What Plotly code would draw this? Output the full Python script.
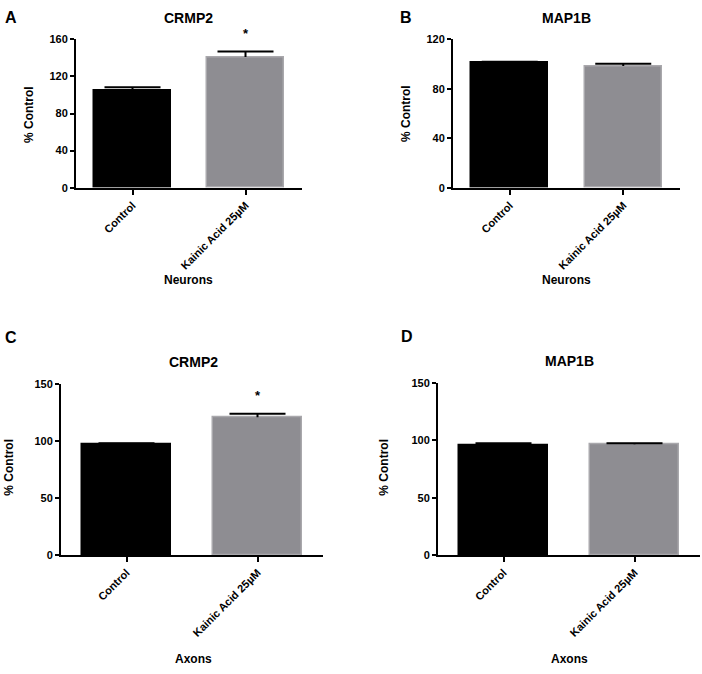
import plotly.graph_objects as go

W, H = 702, 674

categories = ["Control", "Kainic Acid 25µM"]

neurons_crmp2 = [105, 141]
neurons_crmp2_err = [3.5, 6.0]
neurons_map1b = [101, 98.5]
neurons_map1b_err = [1.0, 1.7]
axons_crmp2 = [97.6, 120.9]
axons_crmp2_err = [0.5, 3.2]
axons_map1b = [96.3, 96.6]
axons_map1b_err = [1.2, 1.0]

y_ticks_neurons = [0, 40, 80, 120, 160]
y_ticks_map1b_n = [0, 40, 80, 120]
y_ticks_axons = [0, 50, 100, 150]

bar_fill = ["#000000", "#8e8d92"]
bar_edge = ["#000000", "#a9a8ac"]
font_fam = "Arial, Liberation Sans, sans-serif"


def px_x(x):
    return x / W


def px_y(y):
    return 1 - y / H


# panel: data, err, ticks, x0,x1 (px), ytop, ybottom (px), letter, title, xtitle
panels = [
    (neurons_crmp2, neurons_crmp2_err, y_ticks_neurons, 76, 302, 34, 185, "A", "CRMP2", "Neurons"),
    (neurons_map1b, neurons_map1b_err, y_ticks_map1b_n, 453, 680, 34, 185, "B", "MAP1B", "Neurons"),
    (axons_crmp2, axons_crmp2_err, y_ticks_axons, 61, 323, 385, 559, "C", "CRMP2", "Axons"),
    (axons_map1b, axons_map1b_err, y_ticks_axons, 438, 700, 384, 559, "D", "MAP1B", "Axons"),
]

fig = go.Figure()
annotations = []

for i, (vals, errs, ticks, x0, x1, yt, yb, letter, title, xtitle) in enumerate(panels):
    n = "" if i == 0 else str(i + 1)
    for j in range(2):
        fig.add_trace(go.Bar(
            x=[j], y=[vals[j]], width=0.68,
            marker=dict(color=bar_fill[j], line=dict(color=bar_edge[j], width=1.5)),
            xaxis="x" + n, yaxis="y" + n, showlegend=False,
        ))
        # upper error bar only: whisker down to bar top, cap drawn as marker
        fig.add_trace(go.Scatter(
            x=[j], y=[vals[j] + errs[j]], mode="markers",
            marker=dict(symbol="line-ew", size=40, line=dict(color="black", width=2)),
            error_y=dict(type="data", array=[0], arrayminus=[errs[j]], symmetric=False,
                         color="black", thickness=2, width=0),
            xaxis="x" + n, yaxis="y" + n, showlegend=False, cliponaxis=False,
        ))
    fig.layout["xaxis" + n] = dict(
        domain=[px_x(x0), px_x(x1)], range=[-0.5, 1.5], anchor="y" + n,
        tickmode="array", tickvals=[0, 1], ticktext=categories, tickangle=-45,
        showline=True, linecolor="black", linewidth=2, ticks="outside",
        ticklen=5, tickwidth=2, tickcolor="black", showgrid=False, zeroline=False,
        tickfont=dict(family=font_fam, size=11, color="black", weight="bold"),
    )
    fig.layout["yaxis" + n] = dict(
        domain=[px_y(yb), px_y(yt)], range=[0, ticks[-1]], anchor="x" + n,
        tickmode="array", tickvals=ticks,
        showline=True, linecolor="black", linewidth=2, ticks="outside",
        ticklen=4, tickwidth=2, tickcolor="black", showgrid=False, zeroline=False,
        tickfont=dict(family=font_fam, size=11, color="black", weight="bold"),
    )
    # significance star
    if title == "CRMP2":
        annotations.append(dict(
            x=1, y=vals[1] + errs[1], xref="x" + n, yref="y" + n, text="*",
            showarrow=False, yshift=18,
            font=dict(family=font_fam, size=13, color="black", weight="bold"),
        ))

# labels (panel letters, titles, axis titles)
letters = [("A", 3, 12), ("B", 398, 12), ("C", 3, 338), ("D", 399, 336)]
titles = [("CRMP2", 188, 12), ("MAP1B", 566, 12), ("CRMP2", 193, 362), ("MAP1B", 569, 361)]
x_titles = [("Neurons", 188, 279), ("Neurons", 566, 279), ("Axons", 193, 665), ("Axons", 569, 665)]
y_titles = [(29, 110), (406, 110), (9, 470), (384, 470)]

for t, x, y in letters:
    annotations.append(dict(x=px_x(x), y=px_y(y), xref="paper", yref="paper", text=t,
                            showarrow=False, xanchor="left", yanchor="middle",
                            font=dict(family=font_fam, size=16, color="black", weight="bold")))
for t, x, y in titles:
    annotations.append(dict(x=px_x(x), y=px_y(y), xref="paper", yref="paper", text=t,
                            showarrow=False, xanchor="center", yanchor="middle",
                            font=dict(family=font_fam, size=14, color="black", weight="bold")))
for t, x, y in x_titles:
    annotations.append(dict(x=px_x(x), y=px_y(y), xref="paper", yref="paper", text=t,
                            showarrow=False, xanchor="center", yanchor="middle",
                            font=dict(family=font_fam, size=12, color="black", weight="bold")))
for x, y in y_titles:
    annotations.append(dict(x=px_x(x), y=px_y(y), xref="paper", yref="paper", text="% Control",
                            showarrow=False, textangle=-90, xanchor="center", yanchor="middle",
                            font=dict(family=font_fam, size=12, color="black", weight="bold")))

fig.update_layout(
    width=W, height=H, margin=dict(l=0, r=0, t=0, b=0),
    paper_bgcolor="white", plot_bgcolor="white",
    annotations=annotations, bargap=0,
)

fig.write_html("out.html", config={"displayModeBar": False},
               post_script="document.body.style.margin='0';")
